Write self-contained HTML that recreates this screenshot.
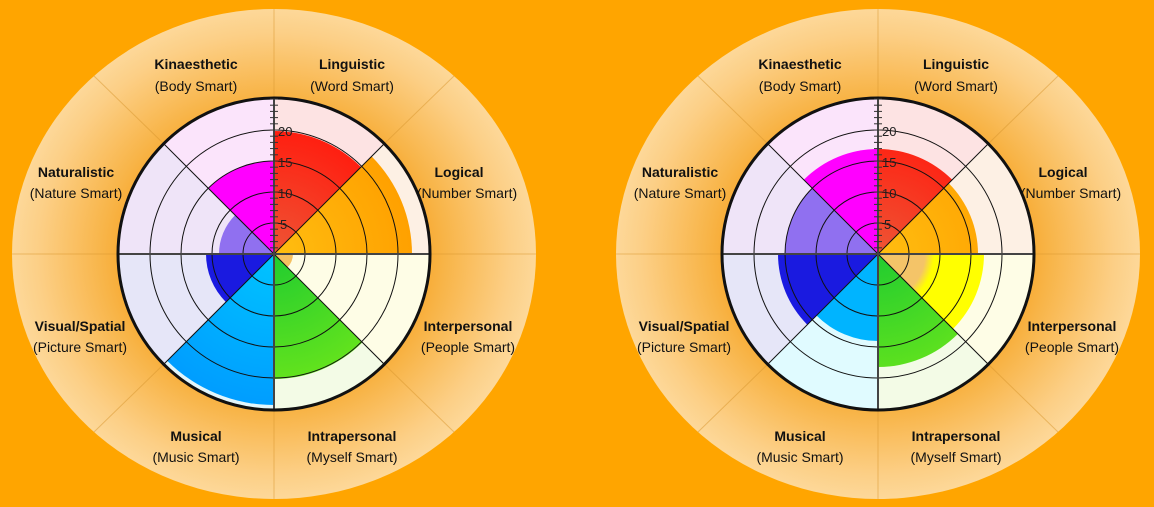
<!DOCTYPE html>
<html><head><meta charset="utf-8"><style>
html,body{margin:0;padding:0;background:#ffa500;}
svg{display:block}
.lb{font-family:"Liberation Sans",sans-serif;font-size:14px;fill:#111;text-anchor:middle}
.b{font-weight:bold}
.tk{font-family:"Liberation Sans",sans-serif;font-size:13px;fill:#222}
</style></head><body>
<svg width="1154" height="507" viewBox="0 0 1154 507" xmlns="http://www.w3.org/2000/svg">
<defs>
<clipPath id="s0" clipPathUnits="userSpaceOnUse"><polygon points="0,0 0,-300 212,-212"/></clipPath>
<clipPath id="s1" clipPathUnits="userSpaceOnUse"><polygon points="0,0 212,-212 300,0"/></clipPath>
<clipPath id="s2" clipPathUnits="userSpaceOnUse"><polygon points="0,0 300,0 212,212"/></clipPath>
<clipPath id="s3" clipPathUnits="userSpaceOnUse"><polygon points="0,0 212,212 0,300"/></clipPath>
<clipPath id="s4" clipPathUnits="userSpaceOnUse"><polygon points="0,0 0,300 -212,212"/></clipPath>
<clipPath id="s5" clipPathUnits="userSpaceOnUse"><polygon points="0,0 -212,212 -300,0"/></clipPath>
<clipPath id="s6" clipPathUnits="userSpaceOnUse"><polygon points="0,0 -300,0 -212,-212"/></clipPath>
<clipPath id="s7" clipPathUnits="userSpaceOnUse"><polygon points="0,0 -212,-212 0,-300"/></clipPath>
<radialGradient id="halo" cx="0.5" cy="0.5" r="0.5">
<stop offset="0.55" stop-color="#f7a72c"/>
<stop offset="0.65" stop-color="#f8b447"/>
<stop offset="0.9" stop-color="#fccf86"/>
<stop offset="1" stop-color="#fdd899"/>
</radialGradient>
<radialGradient id="gR" cx="0" cy="0" r="156" gradientUnits="userSpaceOnUse"><stop offset="0" stop-color="#ee5535"/><stop offset="0.8" stop-color="#ff1e10"/></radialGradient>
<radialGradient id="gO" cx="0" cy="0" r="156" gradientUnits="userSpaceOnUse"><stop offset="0" stop-color="#ffbe10"/><stop offset="0.9" stop-color="#ffa000"/></radialGradient>
<radialGradient id="gG" cx="0" cy="0" r="156" gradientUnits="userSpaceOnUse"><stop offset="0" stop-color="#20cc30"/><stop offset="0.85" stop-color="#66e41c"/></radialGradient>
<radialGradient id="gC" cx="0" cy="0" r="156" gradientUnits="userSpaceOnUse"><stop offset="0" stop-color="#00c4ff"/><stop offset="1" stop-color="#009cff"/></radialGradient>
<radialGradient id="gY" cx="0" cy="0" r="156" gradientUnits="userSpaceOnUse"><stop offset="0.3" stop-color="#f4c468"/><stop offset="0.36" stop-color="#ffff00"/></radialGradient>
</defs>
<rect width="1154" height="507" fill="#ffa500"/>

<!-- LEFT -->
<g transform="translate(274,254)">
<ellipse cx="0" cy="0" rx="262" ry="245" fill="url(#halo)"/>
<g stroke="#d8962e" stroke-opacity="0.5" stroke-width="1">
<line x1="0" y1="-156" x2="0" y2="-245"/><line x1="0" y1="156" x2="0" y2="245"/>
<line x1="-156" y1="0" x2="-262" y2="0"/><line x1="156" y1="0" x2="262" y2="0"/>
<line x1="110" y1="-110" x2="180" y2="-178"/><line x1="110" y1="110" x2="180" y2="178"/>
<line x1="-110" y1="110" x2="-180" y2="178"/><line x1="-110" y1="-110" x2="-180" y2="-178"/>
</g>
<circle r="156" fill="#fde3e3" clip-path="url(#s0)"/>
<circle r="156" fill="#fdf0e4" clip-path="url(#s1)"/>
<circle r="156" fill="#fefde6" clip-path="url(#s2)"/>
<circle r="156" fill="#f3fbe6" clip-path="url(#s3)"/>
<circle r="156" fill="#e3f6fb" clip-path="url(#s4)"/>
<circle r="156" fill="#e6e6f8" clip-path="url(#s5)"/>
<circle r="156" fill="#efe4f8" clip-path="url(#s6)"/>
<circle r="156" fill="#fbe4fb" clip-path="url(#s7)"/>
<circle r="123" fill="url(#gR)" clip-path="url(#s0)"/>
<circle r="138" fill="url(#gO)" clip-path="url(#s1)"/>
<circle r="19" fill="#f5c060" clip-path="url(#s2)"/>
<circle r="125" fill="url(#gG)" clip-path="url(#s3)"/>
<circle r="151" fill="url(#gC)" clip-path="url(#s4)"/>
<circle r="68" fill="#1a1ae0" clip-path="url(#s5)"/>
<circle r="55" fill="#9070f0" clip-path="url(#s6)"/>
<circle r="93" fill="#ff00ff" clip-path="url(#s7)"/>
<g fill="none" stroke="#111" stroke-width="1">
<circle r="31"/><circle r="62"/><circle r="93"/><circle r="124"/>
<line x1="-110" y1="-110" x2="110" y2="110"/><line x1="-110" y1="110" x2="110" y2="-110"/>
</g>
<g stroke="#444" stroke-width="2"><line x1="-156" y1="0" x2="156" y2="0"/><line x1="0" y1="-156" x2="0" y2="156"/></g>
<circle r="156" fill="none" stroke="#111" stroke-width="3"/>
<g stroke="#333" stroke-width="1">
<line x1="-4" y1="-6.2" x2="4" y2="-6.2"/><line x1="-4" y1="-12.4" x2="4" y2="-12.4"/><line x1="-4" y1="-18.6" x2="4" y2="-18.6"/><line x1="-4" y1="-24.8" x2="4" y2="-24.8"/><line x1="-4" y1="-31" x2="4" y2="-31"/><line x1="-4" y1="-37.2" x2="4" y2="-37.2"/><line x1="-4" y1="-43.4" x2="4" y2="-43.4"/><line x1="-4" y1="-49.6" x2="4" y2="-49.6"/><line x1="-4" y1="-55.8" x2="4" y2="-55.8"/><line x1="-4" y1="-62" x2="4" y2="-62"/><line x1="-4" y1="-68.2" x2="4" y2="-68.2"/><line x1="-4" y1="-74.4" x2="4" y2="-74.4"/><line x1="-4" y1="-80.6" x2="4" y2="-80.6"/><line x1="-4" y1="-86.8" x2="4" y2="-86.8"/><line x1="-4" y1="-93" x2="4" y2="-93"/><line x1="-4" y1="-99.2" x2="4" y2="-99.2"/><line x1="-4" y1="-105.4" x2="4" y2="-105.4"/><line x1="-4" y1="-111.6" x2="4" y2="-111.6"/><line x1="-4" y1="-117.8" x2="4" y2="-117.8"/><line x1="-4" y1="-124" x2="4" y2="-124"/><line x1="-4" y1="-130.2" x2="4" y2="-130.2"/><line x1="-4" y1="-136.4" x2="4" y2="-136.4"/><line x1="-4" y1="-142.6" x2="4" y2="-142.6"/><line x1="-4" y1="-148.8" x2="4" y2="-148.8"/><line x1="-4" y1="-155" x2="4" y2="-155"/>
</g>
<text class="tk" x="6" y="-25">5</text><text class="tk" x="4" y="-56">10</text><text class="tk" x="4" y="-87">15</text><text class="tk" x="4" y="-118">20</text>
</g>
<text class="lb b" x="196" y="69">Kinaesthetic</text><text class="lb" x="196" y="91">(Body Smart)</text>
<text class="lb b" x="352" y="69">Linguistic</text><text class="lb" x="352" y="91">(Word Smart)</text>
<text class="lb b" x="459" y="177">Logical</text><text class="lb" x="467" y="198">(Number Smart)</text>
<text class="lb b" x="76" y="177">Naturalistic</text><text class="lb" x="76" y="198">(Nature Smart)</text>
<text class="lb b" x="80" y="331">Visual/Spatial</text><text class="lb" x="80" y="352">(Picture Smart)</text>
<text class="lb b" x="468" y="331">Interpersonal</text><text class="lb" x="468" y="352">(People Smart)</text>
<text class="lb b" x="196" y="441">Musical</text><text class="lb" x="196" y="462">(Music Smart)</text>
<text class="lb b" x="352" y="441">Intrapersonal</text><text class="lb" x="352" y="462">(Myself Smart)</text>

<!-- RIGHT -->
<g transform="translate(878,254)">
<ellipse cx="0" cy="0" rx="262" ry="245" fill="url(#halo)"/>
<g stroke="#d8962e" stroke-opacity="0.5" stroke-width="1">
<line x1="0" y1="-156" x2="0" y2="-245"/><line x1="0" y1="156" x2="0" y2="245"/>
<line x1="-156" y1="0" x2="-262" y2="0"/><line x1="156" y1="0" x2="262" y2="0"/>
<line x1="110" y1="-110" x2="180" y2="-178"/><line x1="110" y1="110" x2="180" y2="178"/>
<line x1="-110" y1="110" x2="-180" y2="178"/><line x1="-110" y1="-110" x2="-180" y2="-178"/>
</g>
<circle r="156" fill="#fde3e3" clip-path="url(#s0)"/>
<circle r="156" fill="#fdf0e4" clip-path="url(#s1)"/>
<circle r="156" fill="#fefde6" clip-path="url(#s2)"/>
<circle r="156" fill="#f3fbe6" clip-path="url(#s3)"/>
<circle r="156" fill="#e0fbff" clip-path="url(#s4)"/>
<circle r="156" fill="#e6e6f8" clip-path="url(#s5)"/>
<circle r="156" fill="#efe4f8" clip-path="url(#s6)"/>
<circle r="156" fill="#fbe4fb" clip-path="url(#s7)"/>
<circle r="105" fill="url(#gR)" clip-path="url(#s0)"/>
<circle r="100" fill="url(#gO)" clip-path="url(#s1)"/>
<circle r="106" fill="url(#gY)" clip-path="url(#s2)"/>
<circle r="113" fill="url(#gG)" clip-path="url(#s3)"/>
<circle r="87" fill="#00b4ff" clip-path="url(#s4)"/>
<circle r="100" fill="#1a1ae0" clip-path="url(#s5)"/>
<circle r="93" fill="#9070f0" clip-path="url(#s6)"/>
<circle r="105" fill="#ff00ff" clip-path="url(#s7)"/>
<g fill="none" stroke="#111" stroke-width="1">
<circle r="31"/><circle r="62"/><circle r="93"/><circle r="124"/>
<line x1="-110" y1="-110" x2="110" y2="110"/><line x1="-110" y1="110" x2="110" y2="-110"/>
</g>
<g stroke="#444" stroke-width="2"><line x1="-156" y1="0" x2="156" y2="0"/><line x1="0" y1="-156" x2="0" y2="156"/></g>
<circle r="156" fill="none" stroke="#111" stroke-width="3"/>
<g stroke="#333" stroke-width="1">
<line x1="-4" y1="-6.2" x2="4" y2="-6.2"/><line x1="-4" y1="-12.4" x2="4" y2="-12.4"/><line x1="-4" y1="-18.6" x2="4" y2="-18.6"/><line x1="-4" y1="-24.8" x2="4" y2="-24.8"/><line x1="-4" y1="-31" x2="4" y2="-31"/><line x1="-4" y1="-37.2" x2="4" y2="-37.2"/><line x1="-4" y1="-43.4" x2="4" y2="-43.4"/><line x1="-4" y1="-49.6" x2="4" y2="-49.6"/><line x1="-4" y1="-55.8" x2="4" y2="-55.8"/><line x1="-4" y1="-62" x2="4" y2="-62"/><line x1="-4" y1="-68.2" x2="4" y2="-68.2"/><line x1="-4" y1="-74.4" x2="4" y2="-74.4"/><line x1="-4" y1="-80.6" x2="4" y2="-80.6"/><line x1="-4" y1="-86.8" x2="4" y2="-86.8"/><line x1="-4" y1="-93" x2="4" y2="-93"/><line x1="-4" y1="-99.2" x2="4" y2="-99.2"/><line x1="-4" y1="-105.4" x2="4" y2="-105.4"/><line x1="-4" y1="-111.6" x2="4" y2="-111.6"/><line x1="-4" y1="-117.8" x2="4" y2="-117.8"/><line x1="-4" y1="-124" x2="4" y2="-124"/><line x1="-4" y1="-130.2" x2="4" y2="-130.2"/><line x1="-4" y1="-136.4" x2="4" y2="-136.4"/><line x1="-4" y1="-142.6" x2="4" y2="-142.6"/><line x1="-4" y1="-148.8" x2="4" y2="-148.8"/><line x1="-4" y1="-155" x2="4" y2="-155"/>
</g>
<text class="tk" x="6" y="-25">5</text><text class="tk" x="4" y="-56">10</text><text class="tk" x="4" y="-87">15</text><text class="tk" x="4" y="-118">20</text>
</g>
<text class="lb b" x="800" y="69">Kinaesthetic</text><text class="lb" x="800" y="91">(Body Smart)</text>
<text class="lb b" x="956" y="69">Linguistic</text><text class="lb" x="956" y="91">(Word Smart)</text>
<text class="lb b" x="1063" y="177">Logical</text><text class="lb" x="1071" y="198">(Number Smart)</text>
<text class="lb b" x="680" y="177">Naturalistic</text><text class="lb" x="680" y="198">(Nature Smart)</text>
<text class="lb b" x="684" y="331">Visual/Spatial</text><text class="lb" x="684" y="352">(Picture Smart)</text>
<text class="lb b" x="1072" y="331">Interpersonal</text><text class="lb" x="1072" y="352">(People Smart)</text>
<text class="lb b" x="800" y="441">Musical</text><text class="lb" x="800" y="462">(Music Smart)</text>
<text class="lb b" x="956" y="441">Intrapersonal</text><text class="lb" x="956" y="462">(Myself Smart)</text>
</svg>
</body></html>
